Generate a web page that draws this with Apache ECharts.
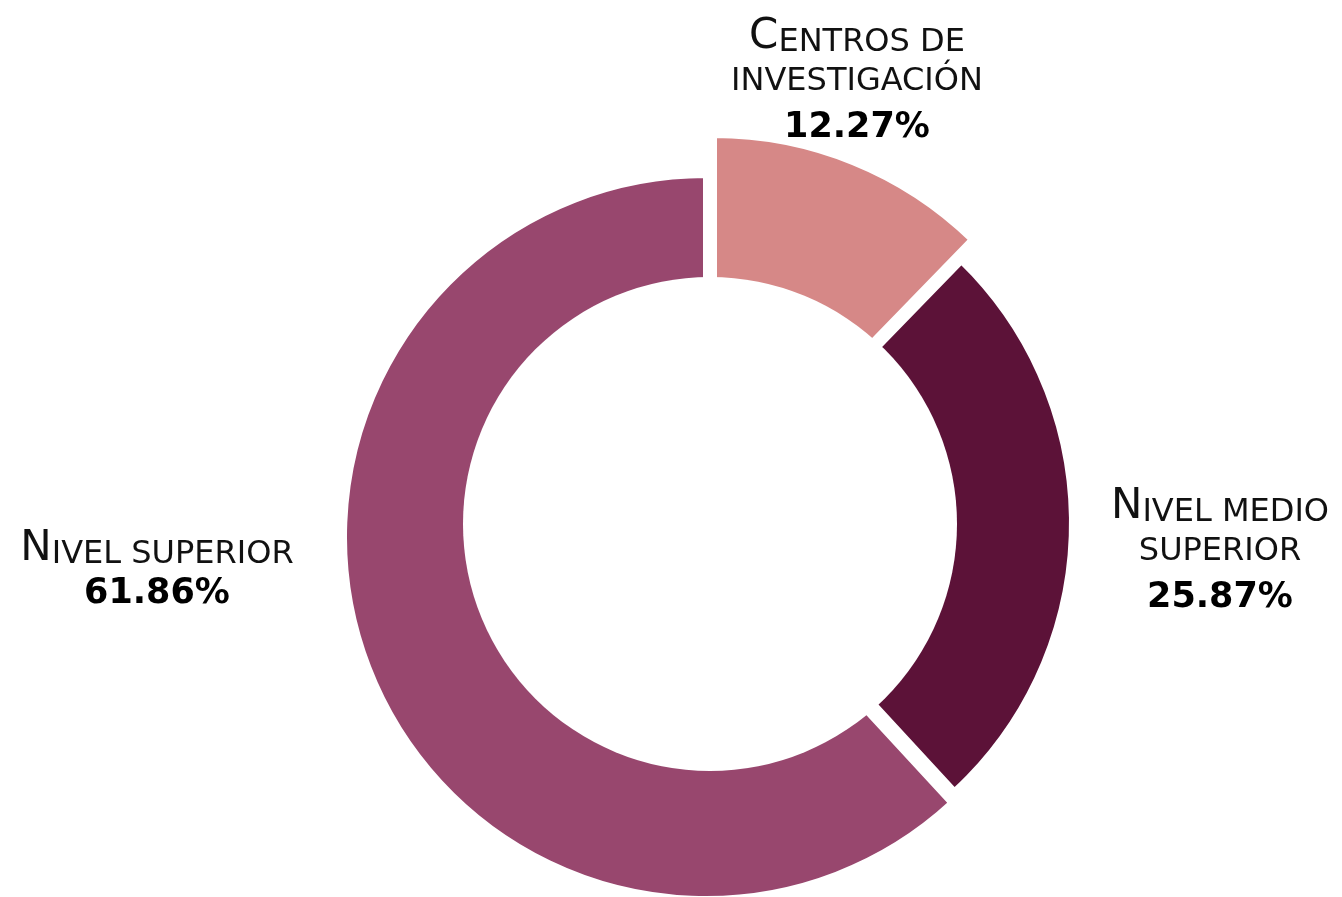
<!DOCTYPE html>
<html>
<head>
<meta charset="utf-8">
<script src="https://cdn.jsdelivr.net/npm/echarts@6/dist/echarts.min.js"></script>
<style>
  html, body { margin: 0; padding: 0; background: #ffffff; }
  #chart { width: 1342px; height: 897px; }
</style>
</head>
<body>
<div id="chart"></div>
<script>
// Distribution by institution type (percent)
const categories = ['Centros de\ninvestigación', 'Nivel medio\nsuperior', 'Nivel superior'];
const shares = [12.27, 25.87, 61.86];
const colors = ['#D68887', '#5C1238', '#98476E'];

// Each slice is drawn on its own slightly shifted disc; the ring hole is one shared circle.
const sliceDiscs = [
  { center: [714, 505], radius: 370, label: [857, 81] },
  { center: [707, 523], radius: 365, label: [1220, 551] },
  { center: [706, 537], radius: 362, label: [157, 570] }
];
const hole = { cx: 710, cy: 524, r: 247 };

const FONT = 'DejaVu Sans';
const rich = {
  cap: { fontFamily: FONT, fontSize: 42, lineHeight: 47, verticalAlign: 'bottom', color: '#111' },
  sc:  { fontFamily: FONT, fontSize: 32, lineHeight: 40, verticalAlign: 'bottom', color: '#111' },
  scl: { fontFamily: FONT, fontSize: 32, lineHeight: 46, color: '#111' },
  pct: { fontFamily: FONT, fontSize: 35, fontWeight: 'bold', lineHeight: 46, color: '#000' }
};

// Small-caps style label: first letter full size, the rest as smaller capitals.
function labelText(p) {
  const lines = p.name.split('\n').map(function (line, li) {
    const up = line.toUpperCase();
    if (li === 0) return '{cap|' + up.charAt(0) + '}{sc|' + up.slice(1) + '}';
    return '{scl|' + up + '}';
  });
  lines.push('{pct|' + p.value.toFixed(2) + '%}');
  return lines.join('\n');
}

const chart = echarts.init(document.getElementById('chart'), null, { renderer: 'canvas' });

chart.setOption({
  animation: false,
  backgroundColor: '#ffffff',
  graphic: [{
    type: 'circle',
    shape: { cx: hole.cx, cy: hole.cy, r: hole.r },
    style: { fill: '#ffffff' },
    z: 100,
    silent: true
  }],
  series: sliceDiscs.map(function (disc, k) {
    return {
      type: 'pie',
      center: disc.center,
      radius: [0, disc.radius],
      startAngle: 90,
      clockwise: true,
      silent: true,
      avoidLabelOverlap: false,
      emphasis: { disabled: true },
      labelLine: { show: false },
      labelLayout: { x: disc.label[0], y: disc.label[1], align: 'center', verticalAlign: 'middle' },
      data: categories.map(function (name, i) {
        const own = i === k;
        return {
          name: name,
          value: shares[i],
          itemStyle: own
            ? { color: colors[i], borderColor: '#ffffff', borderWidth: 6 }
            : { color: 'transparent', borderWidth: 0 },
          label: own
            ? { show: true, position: 'inside', overflow: 'none', formatter: labelText, rich: rich, color: '#111' }
            : { show: false }
        };
      })
    };
  })
});
</script>
</body>
</html>
